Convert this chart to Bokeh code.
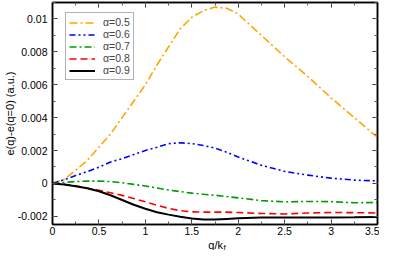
import math
from bokeh.plotting import figure
from bokeh.models import (LinearAxis, SingleIntervalTicker, CustomJSTickFormatter,
                          Label, Range1d, Legend, LegendItem)
from bokeh.embed import file_html
from bokeh.resources import INLINE

# ---- data ----
q = [0, 0.125, 0.25, 0.375, 0.5, 0.625, 0.75, 0.875, 1.0, 1.125, 1.25, 1.375,
     1.5, 1.625, 1.75, 1.875, 2.0, 2.25, 2.5, 2.75, 3.0, 3.25, 3.5]

a05 = [0, 0.00025, 0.0008, 0.0014, 0.0022, 0.003, 0.004, 0.005, 0.006, 0.0072,
       0.0083, 0.0094, 0.0101, 0.0105, 0.01072, 0.01065, 0.0103, 0.009, 0.0077,
       0.0065, 0.0052, 0.004, 0.0028]
a06 = [0, 0.00022, 0.00048, 0.00072, 0.00098, 0.0013, 0.0015, 0.00175, 0.002,
       0.0022, 0.00242, 0.00247, 0.00242, 0.0023, 0.00215, 0.0019, 0.0016,
       0.0011, 0.00073, 0.0005, 0.00032, 0.0002, 0.00015]
a07 = [0, 0.00006, 0.00011, 0.00014, 0.00014, 0.00011, 0.00004, -0.00006,
       -0.00016, -0.00028, -0.0004, -0.0005, -0.00059, -0.00066, -0.00072,
       -0.0008, -0.00088, -0.00105, -0.00112, -0.0011, -0.00111, -0.00118, -0.00116]
a08 = [0, -0.00005, -0.00015, -0.0003, -0.00042, -0.00057, -0.00073, -0.00092,
       -0.00112, -0.00133, -0.00152, -0.00166, -0.00173, -0.00175, -0.00175,
       -0.00175, -0.00177, -0.00183, -0.00186, -0.0018, -0.00177, -0.00178, -0.0018]
a09 = [0, -0.00007, -0.00018, -0.0003, -0.00048, -0.00072, -0.00101, -0.0013,
       -0.00154, -0.00175, -0.0019, -0.00203, -0.00214, -0.0022, -0.0022,
       -0.00216, -0.00212, -0.00208, -0.00207, -0.00207, -0.00207, -0.00206, -0.00204]

series_labels = ["α=0.5", "α=0.6", "α=0.7", "α=0.8", "α=0.9"]
series_values = [a05, a06, a07, a08, a09]
colors = ["#FFA500", "#0000FF", "#009A00", "#FF0000", "#000000"]
dashes = ["8 3 2 3", "6 3 2 3 2 3", "7 3 2 3", "7 4", "solid"]
widths = [1.6, 1.6, 1.6, 1.6, 2.0]

x_label = "q/k"
x_label_sub = "f"
y_label = "e(q)-e(q=0) (a.u.)"

FONT = "Liberation Sans"

p = figure(width=379, height=250, output_backend="svg", toolbar_location=None,
           x_range=Range1d(0, 3.5), y_range=Range1d(-0.0025, 0.011),
           min_border_left=50, min_border_right=2, min_border_top=2,
           min_border_bottom=26, x_axis_location=None, y_axis_location=None)
p.grid.visible = False
p.outline_line_color = "black"
p.outline_line_width = 1.5
p.background_fill_color = "white"
p.border_fill_color = "white"

fmt = CustomJSTickFormatter(code="return parseFloat(tick.toFixed(6)).toString();")
blank = CustomJSTickFormatter(code="return '';")


def make_axis(kind, show_labels):
    if kind == "x":
        ticker = SingleIntervalTicker(interval=0.5, num_minor_ticks=2)
    else:
        ticker = SingleIntervalTicker(interval=0.002, num_minor_ticks=2)
    ax = LinearAxis(ticker=ticker, formatter=fmt if show_labels else blank)
    ax.axis_line_color = "black"
    ax.axis_line_width = 1.5
    ax.major_tick_in = 5
    ax.major_tick_out = 0
    ax.minor_tick_in = 3
    ax.minor_tick_out = 0
    ax.major_tick_line_color = "#333333"
    ax.minor_tick_line_color = "#555555"
    ax.major_tick_line_width = 1
    ax.minor_tick_line_width = 1
    ax.major_label_text_font = FONT
    ax.major_label_text_font_size = "10.5px"
    ax.major_label_text_color = "black"
    if show_labels:
        ax.major_label_standoff = 2 if kind == "x" else 5
    else:
        ax.major_label_standoff = 0
    return ax


p.add_layout(make_axis("x", True), "below")
p.add_layout(make_axis("y", True), "left")
p.add_layout(make_axis("x", False), "above")
p.add_layout(make_axis("y", False), "right")

items = []
for lab, vals, c, d, w in zip(series_labels, series_values, colors, dashes, widths):
    r = p.line(q, vals, line_color=c, line_dash=d, line_width=w)
    items.append(LegendItem(label=lab, renderers=[r]))

leg = Legend(items=items, location=(13, 144))
leg.label_text_font = FONT
leg.label_text_font_size = "10.5px"
leg.label_height = 11
leg.glyph_height = 11
leg.glyph_width = 26
leg.spacing = 0
leg.padding = 3
leg.margin = 0
leg.label_standoff = 8
leg.border_line_color = "#666666"
leg.border_line_width = 1.5
leg.background_fill_color = "white"
leg.background_fill_alpha = 1
p.add_layout(leg, "center")

# axis titles (placed in side panels so they are not clipped to the frame;
# positions come from the data scales plus pixel offsets)
p.add_layout(Label(x=1.75, y=-0.0025, x_offset=8, y_offset=-20, text=x_label,
                   text_align="right", text_baseline="alphabetic",
                   text_font=FONT, text_font_size="11px", text_color="black"), "below")
p.add_layout(Label(x=1.75, y=-0.0025, x_offset=8.5, y_offset=-22.5, text=x_label_sub,
                   text_align="left", text_baseline="alphabetic",
                   text_font=FONT, text_font_size="8px", text_color="black"), "left")
p.add_layout(Label(x=0, y=0.00425, x_offset=-43, text=y_label, angle=math.pi / 2,
                   text_align="center", text_baseline="middle",
                   text_font=FONT, text_font_size="11px", text_color="black"), "left")

open("out.html", "w").write(file_html(p, INLINE))
